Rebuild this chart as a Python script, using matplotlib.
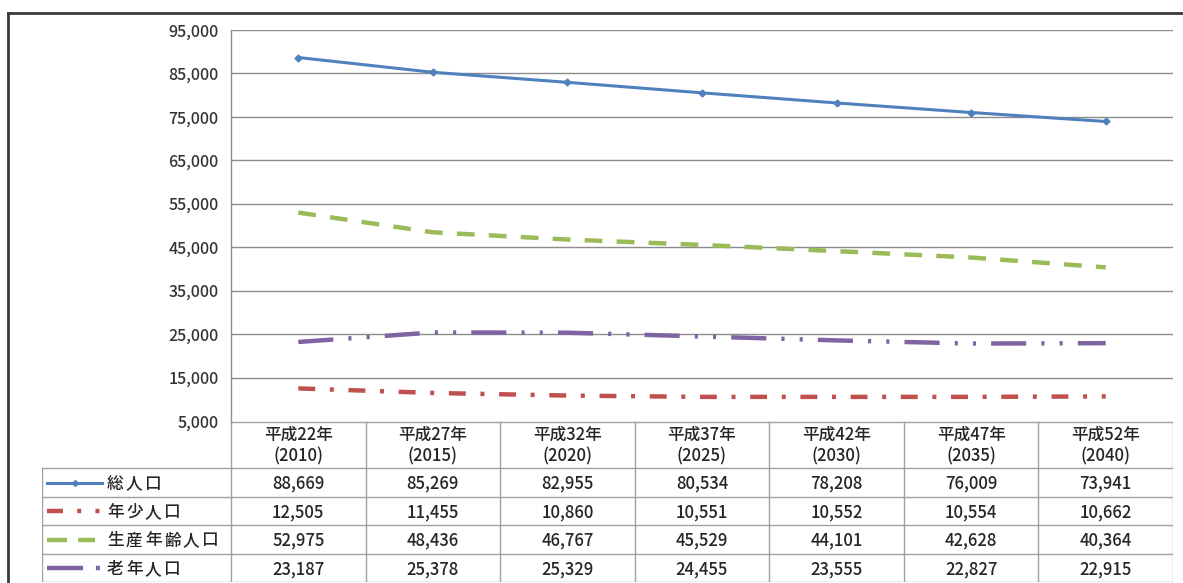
import numpy as np
import matplotlib
matplotlib.use("Agg")
import matplotlib.pyplot as plt
from matplotlib.lines import Line2D

plt.rcParams['font.family'] = ['Noto Sans CJK JP', 'DejaVu Sans']
plt.rcParams['font.weight'] = 'medium'

##
#    Population projection data
##
years = ["平成22年\n(2010)", "平成27年\n(2015)", "平成32年\n(2020)", "平成37年\n(2025)",
         "平成42年\n(2030)", "平成47年\n(2035)", "平成52年\n(2040)"]
names = ["総人口", "年少人口", "生産年齢人口", "老年人口"]
total   = [88669, 85269, 82955, 80534, 78208, 76009, 73941]
young   = [12505, 11455, 10860, 10551, 10552, 10554, 10662]
working = [52975, 48436, 46767, 45529, 44101, 42628, 40364]
elderly = [23187, 25378, 25329, 24455, 23555, 22827, 22915]
yticks = np.arange(5000, 95001, 10000)

series = [total, young, working, elderly]
colors = ["#4f81bd", "#c0504d", "#9bbb59", "#8064a2"]
# line styles (dash patterns in units of line width)
styles = [dict(lw=2.2, ls='-'),
          dict(lw=3.2, dashes=(3.8, 3.3, 0.9, 3.3)),
          dict(lw=3.2, dashes=(4.0, 3.2)),
          dict(lw=3.2, dashes=(7.9, 3.4, 0.7, 3.4, 0.7, 3.4))]
# shorter samples for the table legend keys: (start px, end px, style)
keys = [(47, 102, dict(lw=2.2, ls='-')),
        (47, 100, dict(lw=3.2, dashes=(3.6, 3.2, 0.9, 3.2, 0.9, 10))),
        (47, 95, dict(lw=3.2, dashes=(4.5, 2.5))),
        (47, 100, dict(lw=3.2, dashes=(8.1, 2.9, 0.9, 10)))]

W, H = 1183, 583
fig = plt.figure(figsize=(W / 100, H / 100), dpi=100)
fig.patch.set_facecolor('white')

##
#    Plot area (pixel positions converted to figure fractions)
##
left, right, top, bottom = 231, 1173, 30, 421
ax = fig.add_axes([left / W, 1 - bottom / H, (right - left) / W, (bottom - top) / H])
x = np.arange(len(years))
for j, (vals, c, st) in enumerate(zip(series, colors, styles)):
    ax.plot(x, vals, color=c, dash_capstyle='butt',
            marker='D' if j == 0 else None, ms=3.5, **st)

ax.set_xlim(-0.5, len(years) - 0.5)
ax.set_ylim(yticks[0], yticks[-1])
ax.set_yticks(yticks)
ax.set_yticklabels([f"{v:,}" for v in yticks], fontsize=11.5, color='#333333')
ax.set_xticks([])
ax.tick_params(axis='y', length=0, pad=9)
for v in yticks[1:]:
    ax.axhline(v, color='#8c8c8c', lw=1, zorder=0)
for s in ['top', 'right', 'bottom']:
    ax.spines[s].set_visible(False)
ax.spines['left'].set_color('#8c8c8c')
ax.spines['left'].set_linewidth(1)

##
#    Data table below the plot
##
colw = (right - left) / len(years)
def px2col(px):
    return -0.5 + (px - left) / colw

tleft, tbottom = 42, 582
x0 = px2col(tleft)
tax = fig.add_axes([tleft / W, 1 - tbottom / H, (right - tleft) / W, (tbottom - bottom) / H])
tax.set_xlim(x0, len(years) - 0.5)
tax.set_ylim(tbottom, bottom)
tax.axis('off')

rows = [bottom + 1, 468, 497, 525, 554, tbottom]
gc = '#a0a0a0'
tax.plot([-0.5, len(years) - 0.5], [rows[0], rows[0]], color=gc, lw=1)
for r in rows[1:]:
    tax.plot([x0, len(years) - 0.5], [r, r], color=gc, lw=1)
for k in range(len(years) + 1):
    tax.plot([k - 0.5, k - 0.5], [rows[0], tbottom], color=gc, lw=1)
tax.plot([x0, x0], [rows[1], tbottom], color=gc, lw=1)

tc = '#262626'
for i, lab in enumerate(years):
    tax.text(i, (rows[0] + rows[1]) / 2 + 1, lab, ha='center', va='center',
             fontsize=12, color=tc, linespacing=1.25)
for j, (vals, nm, c) in enumerate(zip(series, names, colors)):
    yc = (rows[j + 1] + rows[j + 2]) / 2
    for i, v in enumerate(vals):
        tax.text(i, yc + 1, f"{v:,}", ha='center', va='center', fontsize=12, color=tc)
    # legend key
    k0, k1, kst = keys[j]
    tax.plot([px2col(k0), px2col((k0 + k1) / 2), px2col(k1)], [yc] * 3, color=c,
             dash_capstyle='butt', marker='D' if j == 0 else None, ms=3,
             markevery=[1], **kst)
    # row label, one character at a time for the wide spacing
    for n, ch in enumerate(nm):
        tax.text(px2col(107 + 19 * n), yc + 1, ch, ha='left', va='center',
                 fontsize=12, color=tc)

##
#    Outer frame
##
fc = '#3a3a3a'
fig.add_artist(Line2D([8 / W, 8 / W], [0, 1 - 13 / H], transform=fig.transFigure, color=fc, lw=2))
fig.add_artist(Line2D([8 / W, 1], [1 - 13 / H, 1 - 13 / H], transform=fig.transFigure, color=fc, lw=2))

fig.savefig("out.png", dpi=100)
